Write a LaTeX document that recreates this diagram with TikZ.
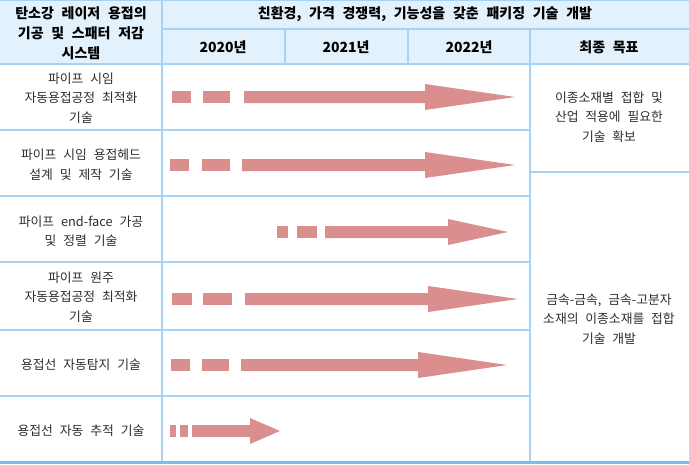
\documentclass[tikz,border=0pt]{standalone}
\usepackage{fontspec}
\setmainfont[WordSpace=2.4]{Noto Sans CJK KR}
\usepackage{xcolor}
\usetikzlibrary{arrows.meta,calc}
\definecolor{hdrfill}{RGB}{227,241,252}
\definecolor{gridline}{RGB}{166,210,245}
\definecolor{gridbottom}{RGB}{120,188,240}
\definecolor{arrowfill}{RGB}{218,142,142}
\definecolor{txtgray}{RGB}{45,45,45}
\tikzset{
  grid/.style={line width=1.3pt,color=gridline},
  hdrtext/.style={font=\fontsize{14}{20}\selectfont\bfseries,text=black,align=center,inner sep=0pt},
  celltext/.style={font=\fontsize{12.8}{19.5}\selectfont,text=txtgray,align=center,inner sep=0pt},
  bar/.style={fill=arrowfill,draw=none}
}
\begin{document}
\begin{tikzpicture}[x=1pt,y=-1pt,line cap=butt,line join=miter]
                \useasboundingbox (0,0) rectangle (689,464);
                % header background
                \fill [hdrfill] (0,0) rectangle (689,64);
                % grid
                \draw [grid] (0,0.7)-- (689,0.7);
                \draw [grid] (162,29)-- (689,29);
                \draw [grid] (0,64)-- (689,64);
                \draw [grid] (0,130)-- (530,130);
                \draw [grid] (0,196)-- (530,196);
                \draw [grid] (0,262)-- (530,262);
                \draw [grid] (0,330)-- (530,330);
                \draw [grid] (0,396)-- (530,396);
                \draw [grid] (530,172)-- (689,172);
                \draw [grid] (162,0)-- (162,462);
                \draw [grid] (285,29)-- (285,64);
                \draw [grid] (408,29)-- (408,64);
                \draw [grid] (530,29)-- (530,462);
                \draw [line width=2.2pt,color=gridbottom] (0,462.5)-- (689,462.5);
                % arrows: y, dash 1, dash 2, body start, head start, tip
                \foreach \y/\a/\b/\c/\d/\e/\h/\t in {97/172/191/203/230/244/425/515,
                    165/170/189/202/230/242/425/515,
                    232/277/288/297/317/325/448/508,
                    299/172/192/203/232/245/428/518,
                    365/171/190/202/229/241/418/507,
                    431/170/176/180/188/192/250/280}{
                    \fill [bar] (\a,\y-6) rectangle (\b,\y+6);
                    \fill [bar] (\c,\y-6) rectangle (\d,\y+6);
                    \fill [bar] (\e,\y-6)-- (\h,\y-6)-- (\h,\y-13)-- (\t,\y)-- (\h,\y+13)-- (\h,\y+6)-- (\e,\y+6)-- cycle;
                }
                % header texts
                \node [hdrtext] (sys) at (81,33) {탄소강 레이저 용접의\\기공 및 스패터 저감\\시스템};
                \node [hdrtext] (goalhdr) at (425,14.5) {친환경, 가격 경쟁력, 기능성을 갖춘 패키징 기술 개발};
                \node [hdrtext] (y2020) at (223,47) {2020년};
                \node [hdrtext] (y2021) at (346,47) {2021년};
                \node [hdrtext] (y2022) at (469,47) {2022년};
                \node [hdrtext] (final) at (609,47) {최종 목표};
                % row texts
                \node [celltext] (seamopt) at (81,98) {파이프 시임\\자동용접공정 최적화\\기술};
                \node [celltext] (seamhead) at (81,164.5) {파이프 시임 용접헤드\\설계 및 제작 기술};
                \node [celltext] (endface) at (81,231) {파이프 end-face 가공\\및 정렬 기술};
                \node [celltext] (girthopt) at (81,297) {파이프 원주\\자동용접공정 최적화\\기술};
                \node [celltext] (detect) at (81,365) {용접선 자동탐지 기술};
                \node [celltext] (track) at (81,431) {용접선 자동 추적 기술};
                % goal texts
                \node [celltext] (goalone) at (609,117) {이종소재별 접합 및\\산업 적용에 필요한\\기술 확보};
                \node [celltext] (goaltwo) at (609,319) {금속-금속, 금속-고분자\\소재의 이종소재를 접합\\기술 개발};
\end{tikzpicture}
\end{document}
